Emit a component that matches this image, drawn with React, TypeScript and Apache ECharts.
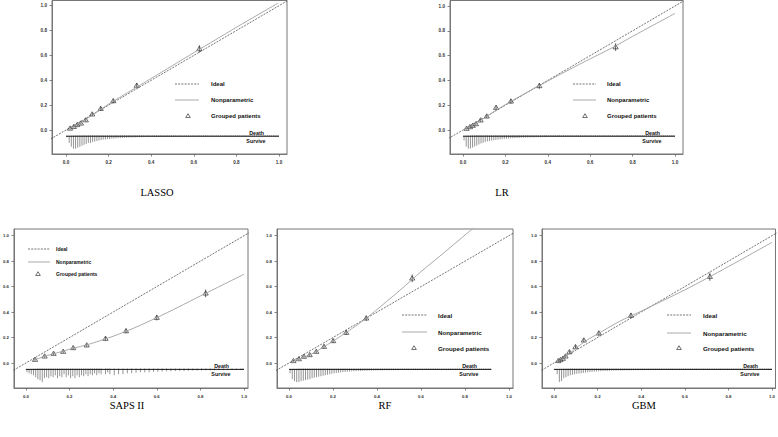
import React, { useEffect, useRef } from "react";
import * as echarts from "echarts";

// ---------------- DATA ----------------
const MODELS = ["LASSO", "LR", "SAPS II", "RF", "GBM"];
const TICKS = [0, 0.2, 0.4, 0.6, 0.8, 1.0];
const LEGEND_LABELS = ["Ideal", "Nonparametric", "Grouped patients"];
const RUG_LABELS = ["Death", "Survive"];
const RUG_Y = -0.05;

// grouped patients (mean predicted, observed, half-width of bar)
const LASSO_PRED = [0.019, 0.037, 0.053, 0.07, 0.093, 0.123, 0.163, 0.222, 0.332, 0.626];
const LASSO_OBS = [0.012, 0.026, 0.041, 0.053, 0.079, 0.126, 0.171, 0.233, 0.357, 0.652];
const LASSO_ERR = [0.008, 0.008, 0.009, 0.01, 0.012, 0.014, 0.015, 0.017, 0.022, 0.03];
const LR_PRED = [0.017, 0.033, 0.046, 0.061, 0.083, 0.112, 0.156, 0.226, 0.36, 0.72];
const LR_OBS = [0.011, 0.024, 0.035, 0.048, 0.078, 0.11, 0.18, 0.231, 0.355, 0.668];
const LR_ERR = [0.007, 0.008, 0.009, 0.01, 0.012, 0.013, 0.016, 0.018, 0.022, 0.03];
const SAPS_PRED = [0.042, 0.086, 0.127, 0.171, 0.217, 0.279, 0.365, 0.459, 0.6, 0.824];
const SAPS_OBS = [0.026, 0.052, 0.073, 0.089, 0.118, 0.139, 0.191, 0.251, 0.356, 0.547];
const SAPS_ERR = [0.008, 0.009, 0.01, 0.01, 0.012, 0.012, 0.015, 0.018, 0.022, 0.03];
const RF_PRED = [0.02, 0.045, 0.068, 0.094, 0.124, 0.159, 0.201, 0.26, 0.351, 0.56];
const RF_OBS = [0.016, 0.031, 0.05, 0.063, 0.089, 0.128, 0.173, 0.238, 0.351, 0.665];
const RF_ERR = [0.007, 0.008, 0.009, 0.01, 0.011, 0.013, 0.015, 0.017, 0.02, 0.03];
const GBM_PRED = [0.02, 0.03, 0.041, 0.053, 0.071, 0.099, 0.137, 0.206, 0.353, 0.715];
const GBM_OBS = [0.016, 0.024, 0.034, 0.052, 0.086, 0.126, 0.178, 0.233, 0.372, 0.678];
const GBM_ERR = [0.007, 0.007, 0.008, 0.009, 0.011, 0.013, 0.015, 0.017, 0.022, 0.032];

// nonparametric calibration curves
const LASSO_CURVE_X = [0.01, 0.03, 0.05, 0.08, 0.1, 0.15, 0.2, 0.25, 0.3, 0.4, 0.5, 0.6, 0.7, 0.8, 0.9, 0.994];
const LASSO_CURVE_Y = [0.004, 0.022, 0.04, 0.07, 0.093, 0.152, 0.208, 0.26, 0.312, 0.415, 0.518, 0.622, 0.724, 0.826, 0.926, 1.019];
const LR_CURVE_X = [0.005, 0.03, 0.06, 0.1, 0.15, 0.2, 0.3, 0.4, 0.5, 0.6, 0.7, 0.8, 0.9, 1.0];
const LR_CURVE_Y = [0.002, 0.024, 0.052, 0.097, 0.152, 0.205, 0.302, 0.395, 0.486, 0.574, 0.66, 0.755, 0.848, 0.94];
const SAPS_CURVE_X = [0.03, 0.05, 0.1, 0.15, 0.2, 0.25, 0.3, 0.4, 0.5, 0.6, 0.7, 0.8, 0.9, 1.0];
const SAPS_CURVE_Y = [0.018, 0.031, 0.06, 0.083, 0.108, 0.13, 0.153, 0.21, 0.278, 0.356, 0.44, 0.527, 0.612, 0.697];
const RF_CURVE_X = [0.01, 0.05, 0.1, 0.15, 0.2, 0.25, 0.3, 0.35, 0.4, 0.5, 0.56, 0.6, 0.7, 0.8, 0.9];
const RF_CURVE_Y = [0.008, 0.034, 0.068, 0.118, 0.172, 0.228, 0.287, 0.35, 0.42, 0.565, 0.656, 0.718, 0.86, 1.005, 1.15];
const GBM_CURVE_X = [0.01, 0.03, 0.05, 0.08, 0.1, 0.15, 0.2, 0.3, 0.4, 0.5, 0.6, 0.7, 0.8, 0.9, 1.0];
const GBM_CURVE_Y = [0.006, 0.024, 0.048, 0.088, 0.115, 0.178, 0.228, 0.326, 0.407, 0.49, 0.574, 0.664, 0.757, 0.852, 0.948];

// risk distribution (relative counts per 0.01 bin of predicted risk)
const LASSO_SURVIVE = [
  1, 7, 11, 13, 13, 12, 11, 10, 9, 8,
  7, 7, 6, 5.5, 5, 4.5, 4, 3.5, 3.5, 3,
  3, 2.5, 2.5, 2.2, 2, 2, 1.8, 1.6, 1.5, 1.4,
  1.3, 1.2, 1.2, 1.1, 1, 1, 1, 0.9, 0.9, 0.9,
  0.8, 0.8, 0.8, 0.8, 0.7, 0.7, 0.7, 0.7, 0.7, 0.6,
  0.6, 0.6, 0.6, 0.6, 0.6, 0.6, 0.5, 0.5, 0.5, 0.5,
  0.5, 0.5, 0.5, 0.5, 0.5, 0.5, 0.4, 0.4, 0.4, 0.4,
  0.4, 0.4, 0.4, 0.4, 0.4, 0.4, 0.4, 0.4, 0.4, 0.4,
  0.4, 0.4, 0.4, 0.3, 0.3, 0.3, 0.3, 0.3, 0.3, 0.3,
  0.3, 0.3, 0.3, 0.3, 0.3, 0.3, 0.3, 0.3, 0.3, 0.3,
];
const LASSO_DEATH = [
  0, 0.2, 0.4, 0.5, 0.6, 0.6, 0.7, 0.7, 0.7, 0.7,
  0.7, 0.7, 0.7, 0.7, 0.7, 0.7, 0.7, 0.7, 0.7, 0.7,
  0.7, 0.7, 0.7, 0.7, 0.7, 0.7, 0.7, 0.7, 0.7, 0.7,
  0.7, 0.7, 0.7, 0.7, 0.7, 0.7, 0.7, 0.7, 0.7, 0.7,
  0.7, 0.7, 0.7, 0.7, 0.7, 0.7, 0.7, 0.7, 0.7, 0.7,
  0.7, 0.7, 0.7, 0.7, 0.7, 0.7, 0.7, 0.7, 0.7, 0.7,
  0.7, 0.7, 0.7, 0.7, 0.7, 0.7, 0.7, 0.7, 0.7, 0.7,
  0.7, 0.7, 0.7, 0.7, 0.7, 0.7, 0.7, 0.7, 0.7, 0.7,
  0.7, 0.7, 0.7, 0.7, 0.7, 0.7, 0.7, 0.7, 0.7, 0.7,
  0.7, 0.7, 0.7, 0.7, 0.7, 0.7, 0.7, 0.7, 0.7, 0.7,
];
const LR_SURVIVE = [
  4, 10, 12, 12, 11, 10, 9, 8, 7, 6.5,
  5.5, 5, 4.5, 4.2, 3.9, 3.6, 3.3, 3, 2.8, 2.6,
  2.4, 2.2, 2, 1.9, 1.8, 1.7, 1.6, 1.5, 1.4, 1.3,
  1.2, 1.2, 1.1, 1.1, 1, 1, 1, 0.9, 0.9, 0.9,
  0.8, 0.8, 0.8, 0.8, 0.7, 0.7, 0.7, 0.7, 0.7, 0.6,
  0.6, 0.6, 0.6, 0.6, 0.6, 0.6, 0.5, 0.5, 0.5, 0.5,
  0.5, 0.5, 0.5, 0.5, 0.5, 0.5, 0.4, 0.4, 0.4, 0.4,
  0.4, 0.4, 0.4, 0.4, 0.4, 0.4, 0.4, 0.4, 0.4, 0.4,
  0.4, 0.4, 0.4, 0.3, 0.3, 0.3, 0.3, 0.3, 0.3, 0.3,
  0.3, 0.3, 0.3, 0.3, 0.3, 0.3, 0.3, 0.3, 0.3, 0.3,
];
const LR_DEATH = [
  0.1, 0.3, 0.4, 0.5, 0.6, 0.6, 0.7, 0.7, 0.7, 0.7,
  0.7, 0.7, 0.7, 0.7, 0.7, 0.7, 0.7, 0.7, 0.7, 0.7,
  0.7, 0.7, 0.7, 0.7, 0.7, 0.7, 0.7, 0.7, 0.7, 0.7,
  0.7, 0.7, 0.7, 0.7, 0.7, 0.7, 0.7, 0.7, 0.7, 0.7,
  0.7, 0.7, 0.7, 0.7, 0.7, 0.7, 0.7, 0.7, 0.7, 0.7,
  0.7, 0.7, 0.7, 0.7, 0.7, 0.7, 0.7, 0.7, 0.7, 0.7,
  0.7, 0.7, 0.7, 0.7, 0.7, 0.7, 0.7, 0.7, 0.7, 0.7,
  0.7, 0.7, 0.7, 0.7, 0.7, 0.7, 0.7, 0.7, 0.7, 0.7,
  0.7, 0.7, 0.7, 0.7, 0.7, 0.7, 0.7, 0.7, 0.7, 0.7,
  0.7, 0.7, 0.7, 0.7, 0.7, 0.7, 0.7, 0.7, 0.7, 0.7,
];
const SAPS_SURVIVE = [
  3, 4, 5, 6, 8, 10, 11, 13, 9, 8,
  9, 7, 8, 6, 9, 7, 8, 5, 8, 6,
  9, 7, 9, 6, 8, 6, 7, 5, 7, 5,
  6, 4, 6, 4, 5, 0, 5, 3, 5, 0,
  6, 0, 5, 0, 5, 0, 4, 0, 4, 0,
  3.5, 0, 3, 0, 3, 0, 3, 0, 2.5, 0,
  2.5, 0, 2.2, 0, 2, 0, 2, 0, 1.8, 0,
  1.6, 0, 1.5, 0, 1.4, 0, 1.3, 0, 1.2, 0,
  1.1, 0, 1, 0, 1, 0, 0.9, 0, 0.9, 0,
  0.8, 0, 0.8, 0, 0.7, 0, 0.7, 0, 0.6, 0.5,
];
const SAPS_DEATH = [
  0.2, 0.3, 0.4, 0.5, 0.6, 0.7, 0.7, 0.8, 0.7, 0.7,
  0.7, 0.7, 0.7, 0.7, 0.7, 0.7, 0.7, 0.7, 0.7, 0.7,
  0.7, 0.7, 0.7, 0.7, 0.7, 0.7, 0.7, 0.7, 0.7, 0.7,
  0.7, 0.7, 0.7, 0.7, 0.7, 0, 0.7, 0.7, 0.7, 0,
  0.7, 0, 0.7, 0, 0.7, 0, 0.7, 0, 0.7, 0,
  0.7, 0, 0.7, 0, 0.7, 0, 0.7, 0, 0.7, 0,
  0.7, 0, 0.7, 0, 0.7, 0, 0.7, 0, 0.7, 0,
  0.7, 0, 0.7, 0, 0.7, 0, 0.7, 0, 0.7, 0,
  0.7, 0, 0.7, 0, 0.7, 0, 0.7, 0, 0.7, 0,
  0.7, 0, 0.7, 0, 0.7, 0, 0.7, 0, 0.7, 0.7,
];
const RF_SURVIVE = [
  4, 10, 12, 13, 13, 12, 11.5, 11, 10.5, 10,
  9, 8.5, 8, 7.5, 7, 6.5, 6, 5.5, 5, 4.5,
  4, 3.7, 3.4, 3.1, 2.8, 2.6, 2.4, 2.2, 2, 1.9,
  1.8, 1.7, 1.6, 1.5, 1.4, 1.3, 1.2, 1.2, 1.1, 1.1,
  1, 1, 1, 0.9, 0.9, 0.9, 0.8, 0.8, 0.8, 0.8,
  0.7, 0.7, 0.7, 0.7, 0.6, 0.6, 0.6, 0.6, 0.6, 0.5,
  0.5, 0.5, 0.5, 0.5, 0.5, 0.5, 0.4, 0.4, 0.4, 0.4,
  0.4, 0.4, 0.4, 0.4, 0.4, 0.4, 0.4, 0.4, 0.3, 0.3,
  0.3, 0.3, 0.3, 0.3, 0.3, 0.3, 0.3, 0.3, 0.3, 0.3,
  0.3, 0.3,
];
const RF_DEATH = [
  0.1, 0.3, 0.4, 0.5, 0.6, 0.6, 0.7, 0.7, 0.7, 0.7,
  0.7, 0.7, 0.7, 0.7, 0.7, 0.7, 0.7, 0.7, 0.7, 0.7,
  0.7, 0.7, 0.7, 0.7, 0.7, 0.7, 0.7, 0.7, 0.7, 0.7,
  0.7, 0.7, 0.7, 0.7, 0.7, 0.7, 0.7, 0.7, 0.7, 0.7,
  0.7, 0.7, 0.7, 0.7, 0.7, 0.7, 0.7, 0.7, 0.7, 0.7,
  0.7, 0.7, 0.7, 0.7, 0.7, 0.7, 0.7, 0.7, 0.7, 0.7,
  0.7, 0.7, 0.7, 0.7, 0.7, 0.7, 0.7, 0.7, 0.7, 0.7,
  0.7, 0.7, 0.7, 0.7, 0.7, 0.7, 0.7, 0.7, 0.7, 0.7,
  0.7, 0.7, 0.7, 0.7, 0.7, 0.7, 0.7, 0.7, 0.7, 0.7,
  0.7, 0.7,
];
const GBM_SURVIVE = [
  0, 5, 13, 12, 9, 8, 7, 6, 5.5, 5,
  4.5, 4.2, 4, 3.6, 3.3, 3, 2.7, 2.5, 2.3, 2.1,
  2, 1.9, 1.8, 1.7, 1.6, 1.5, 1.4, 1.3, 1.2, 1.2,
  1.1, 1.1, 1, 1, 1, 0.9, 0.9, 0.9, 0.8, 0.8,
  0.8, 0.8, 0.7, 0.7, 0.7, 0.7, 0.7, 0.6, 0.6, 0.6,
  0.6, 0.6, 0.6, 0.6, 0.5, 0.5, 0.5, 0.5, 0.5, 0.5,
  0.5, 0.5, 0.5, 0.5, 0.4, 0.4, 0.4, 0.4, 0.4, 0.4,
  0.4, 0.4, 0.4, 0.4, 0.4, 0.4, 0.4, 0.4, 0.4, 0.4,
  0.4, 0.4, 0.3, 0.3, 0.3, 0.3, 0.3, 0.3, 0.3, 0.3,
  0.3, 0.3, 0.3, 0.3, 0.3, 0.3, 0.3, 0.3, 0.3, 0.3,
];
const GBM_DEATH = [
  0, 0.2, 0.4, 0.5, 0.6, 0.6, 0.7, 0.7, 0.7, 0.7,
  0.7, 0.7, 0.7, 0.7, 0.7, 0.7, 0.7, 0.7, 0.7, 0.7,
  0.7, 0.7, 0.7, 0.7, 0.7, 0.7, 0.7, 0.7, 0.7, 0.7,
  0.7, 0.7, 0.7, 0.7, 0.7, 0.7, 0.7, 0.7, 0.7, 0.7,
  0.7, 0.7, 0.7, 0.7, 0.7, 0.7, 0.7, 0.7, 0.7, 0.7,
  0.7, 0.7, 0.7, 0.7, 0.7, 0.7, 0.7, 0.7, 0.7, 0.7,
  0.7, 0.7, 0.7, 0.7, 0.7, 0.7, 0.7, 0.7, 0.7, 0.7,
  0.7, 0.7, 0.7, 0.7, 0.7, 0.7, 0.7, 0.7, 0.7, 0.7,
  0.7, 0.7, 0.7, 0.7, 0.7, 0.7, 0.7, 0.7, 0.7, 0.7,
  0.7, 0.7, 0.7, 0.7, 0.7, 0.7, 0.7, 0.7, 0.7, 0.7,
];
// range of predicted risk covered by the rug line
const RUG_MIN = [0, 0, 0, 0, 0];
const RUG_MAX = [1.0, 1.0, 1.0, 0.92, 1.0];

const PRED = [LASSO_PRED, LR_PRED, SAPS_PRED, RF_PRED, GBM_PRED];
const OBS = [LASSO_OBS, LR_OBS, SAPS_OBS, RF_OBS, GBM_OBS];
const ERR = [LASSO_ERR, LR_ERR, SAPS_ERR, RF_ERR, GBM_ERR];
const CURVE_X = [LASSO_CURVE_X, LR_CURVE_X, SAPS_CURVE_X, RF_CURVE_X, GBM_CURVE_X];
const CURVE_Y = [LASSO_CURVE_Y, LR_CURVE_Y, SAPS_CURVE_Y, RF_CURVE_Y, GBM_CURVE_Y];
const SURVIVE = [LASSO_SURVIVE, LR_SURVIVE, SAPS_SURVIVE, RF_SURVIVE, GBM_SURVIVE];
const DEATH = [LASSO_DEATH, LR_DEATH, SAPS_DEATH, RF_DEATH, GBM_DEATH];

// ---------------- LAYOUT (pixels) ----------------
// box edges and pixel positions of value 0 and 1 on each axis
const PANELS = [
  { left: 52, top: 0.5, right: 287, bottom: 154, x0: 66, x1: 279, y0: 130, y1: 5.7,
    title: [157, 192], leg: { l1: 175, l2: 199, tri: 188, tx: 211, rows: [84, 100, 116], fs: 6 },
    rugText: 264, tickFs: 4.6 },
  { left: 450, top: 0.5, right: 683, bottom: 154, x0: 463, x1: 675, y0: 130, y1: 6,
    title: [502, 192], leg: { l1: 573, l2: 596, tri: 585, tx: 607, rows: [84, 100, 116], fs: 6 },
    rugText: 660, tickFs: 4.6 },
  { left: 12, top: 229, right: 248, bottom: 388, x0: 24, x1: 244, y0: 363, y1: 235.7,
    title: [127, 405], leg: { l1: 28, l2: 50, tri: 38, tx: 56, rows: [249, 262, 274], fs: 5 },
    rugText: 229, tickFs: 4.3 },
  { left: 277, top: 229, right: 513, bottom: 388, x0: 289, x1: 509, y0: 363, y1: 235.7,
    title: [385, 405], leg: { l1: 402, l2: 427, tri: 414, tx: 438, rows: [315, 332, 348], fs: 6.2 },
    rugText: 477, tickFs: 4.3 },
  { left: 542, top: 229, right: 777, bottom: 388, x0: 554, x1: 773.5, y0: 363, y1: 235.7,
    title: [644, 405], leg: { l1: 667, l2: 691, tri: 679, tx: 703, rows: [315, 333, 348], fs: 6.2 },
    rugText: 758, tickFs: 4.3 },
];

const SANS = "'Liberation Sans', Arial, Helvetica, sans-serif";
const SERIF = "'Liberation Serif', 'Times New Roman', serif";
const IDEAL_COLOR = "#3a3a3a";
const NONPAR_COLOR = "#a0a0a0";
const MARK_COLOR = "#333";

function buildOption() {
  const grid: any[] = [];
  const xAxis: any[] = [];
  const yAxis: any[] = [];
  const series: any[] = [];
  const graphic: any[] = [];

  PANELS.forEach((p, i) => {
    const xs = p.x1 - p.x0;
    const ys = p.y0 - p.y1;
    const xmin = (p.left - p.x0) / xs;
    const xmax = (p.right - p.x0) / xs;
    const ymax = (p.y0 - p.top) / ys;
    const ymin = (p.y0 - p.bottom) / ys;
    const py = (v: number) => p.y0 - v * ys;

    grid.push({
      left: p.left, top: p.top, width: p.right - p.left, height: p.bottom - p.top,
      show: true, borderColor: "#777", borderWidth: 1, backgroundColor: "transparent",
    });
    const labelStyle = {
      customValues: TICKS,
      formatter: (v: number) => v.toFixed(1),
      fontSize: p.tickFs, fontWeight: "bold", fontFamily: SANS, color: "#333",
    };
    xAxis.push({
      type: "value", gridIndex: i, min: xmin, max: xmax,
      axisLine: { show: true, onZero: false, lineStyle: { color: "#777", width: 1 } },
      axisTick: { show: true, customValues: TICKS, length: 2.5, lineStyle: { color: "#666", width: 0.8 } },
      axisLabel: { ...labelStyle, margin: 6 },
      splitLine: { show: false },
    });
    yAxis.push({
      type: "value", gridIndex: i, min: ymin, max: ymax,
      axisLine: { show: true, onZero: false, lineStyle: { color: "#777", width: 1 } },
      axisTick: { show: true, customValues: TICKS, length: 2.5, lineStyle: { color: "#666", width: 0.8 } },
      axisLabel: { ...labelStyle, margin: 5 },
      splitLine: { show: false },
    });

    // ideal line y = x
    series.push({
      type: "line", xAxisIndex: i, yAxisIndex: i, silent: true, symbol: "none",
      data: [[-0.5, -0.5], [1.5, 1.5]], clip: true,
      lineStyle: { color: IDEAL_COLOR, width: 0.7, type: [2, 1.2] },
    });
    // nonparametric curve
    series.push({
      type: "line", xAxisIndex: i, yAxisIndex: i, silent: true, symbol: "none",
      smooth: 0.25, clip: true,
      data: CURVE_X[i].map((x, k) => [x, CURVE_Y[i][k]]),
      lineStyle: { color: NONPAR_COLOR, width: 0.9 },
    });
    // rug baseline
    series.push({
      type: "line", xAxisIndex: i, yAxisIndex: i, silent: true, symbol: "none",
      data: [[RUG_MIN[i], RUG_Y], [RUG_MAX[i], RUG_Y]],
      lineStyle: { color: "#111", width: 1 },
    });
    // rug spikes
    const sMax = Math.max(...SURVIVE[i]);
    const scale = 0.1 / sMax;
    series.push({
      type: "custom", xAxisIndex: i, yAxisIndex: i, silent: true,
      encode: { x: 0, y: 1 },
      data: SURVIVE[i].map((s, k) => [k * 0.01 + 0.005, s, DEATH[i][k]]),
      renderItem: (_params: any, api: any) => {
        const x = api.value(0);
        const s = api.value(1);
        const d = api.value(2);
        const base = api.coord([x, RUG_Y]);
        const down = api.coord([x, RUG_Y - s * scale]);
        const up = api.coord([x, RUG_Y + d * scale]);
        return {
          type: "group",
          children: [
            { type: "line", shape: { x1: base[0], y1: base[1], x2: down[0], y2: down[1] },
              style: { stroke: "#7a7a7a", lineWidth: 0.8 } },
            { type: "line", shape: { x1: base[0], y1: base[1], x2: up[0], y2: up[1] },
              style: { stroke: "#333", lineWidth: 0.8 } },
          ],
        };
      },
    });
    // grouped patients: triangles with vertical bars
    series.push({
      type: "custom", xAxisIndex: i, yAxisIndex: i, silent: true,
      encode: { x: 0, y: 1 },
      data: PRED[i].map((x, k) => [x, OBS[i][k], OBS[i][k] - ERR[i][k], OBS[i][k] + ERR[i][k]]),
      renderItem: (_params: any, api: any) => {
        const c = api.coord([api.value(0), api.value(1)]);
        const a = api.coord([api.value(0), api.value(2)]);
        const b = api.coord([api.value(0), api.value(3)]);
        const r = 2.6;
        return {
          type: "group",
          children: [
            { type: "line", shape: { x1: a[0], y1: a[1], x2: b[0], y2: b[1] },
              style: { stroke: MARK_COLOR, lineWidth: 0.8 } },
            { type: "polygon",
              shape: { points: [[c[0], c[1] - r], [c[0] - r, c[1] + r * 0.65], [c[0] + r, c[1] + r * 0.65]] },
              style: { fill: "rgba(255,255,255,0)", stroke: MARK_COLOR, lineWidth: 0.7 } },
          ],
        };
      },
    });

    // title
    graphic.push({
      type: "text", x: p.title[0], y: p.title[1], silent: true,
      style: { text: MODELS[i], fontSize: 10.5, fontFamily: SERIF, fill: "#000",
        align: "center", verticalAlign: "middle", textAlign: "center", textVerticalAlign: "middle" },
    });
    // legend
    const L = p.leg;
    graphic.push({
      type: "line", silent: true,
      shape: { x1: L.l1, y1: L.rows[0], x2: L.l2, y2: L.rows[0] },
      style: { stroke: IDEAL_COLOR, lineWidth: 0.7, lineDash: [2, 1.2] },
    });
    graphic.push({
      type: "line", silent: true,
      shape: { x1: L.l1, y1: L.rows[1], x2: L.l2, y2: L.rows[1] },
      style: { stroke: NONPAR_COLOR, lineWidth: 0.9 },
    });
    const r = 2.3;
    const ty = L.rows[2];
    graphic.push({
      type: "polygon", silent: true,
      shape: { points: [[L.tri, ty - r], [L.tri - r, ty + r * 0.65], [L.tri + r, ty + r * 0.65]] },
      style: { fill: "rgba(255,255,255,0)", stroke: MARK_COLOR, lineWidth: 0.7 },
    });
    LEGEND_LABELS.forEach((lab, k) => {
      graphic.push({
        type: "text", x: L.tx, y: L.rows[k], silent: true,
        style: { text: lab, fontSize: L.fs, fontWeight: "bold", fontFamily: SANS, fill: "#111",
          align: "left", verticalAlign: "middle", textAlign: "left", textVerticalAlign: "middle" },
      });
    });
    // Death / Survive labels
    const ly = py(RUG_Y);
    graphic.push({
      type: "text", x: p.rugText, y: ly - 3.2, silent: true,
      style: { text: RUG_LABELS[0], fontSize: 5.3, fontWeight: "bold", fontFamily: SANS, fill: "#111",
        align: "right", verticalAlign: "middle", textAlign: "right", textVerticalAlign: "middle" },
    });
    graphic.push({
      type: "text", x: p.rugText + 1.5, y: ly + 4.8, silent: true,
      style: { text: RUG_LABELS[1], fontSize: 5.3, fontWeight: "bold", fontFamily: SANS, fill: "#111",
        align: "right", verticalAlign: "middle", textAlign: "right", textVerticalAlign: "middle" },
    });
  });

  return {
    animation: false,
    backgroundColor: "#fff",
    grid, xAxis, yAxis, series, graphic,
  };
}

export default function App() {
  const ref = useRef<HTMLDivElement>(null);
  useEffect(() => {
    if (!ref.current) return;
    const chart = echarts.init(ref.current, undefined, { renderer: "svg", width: 778, height: 437 });
    chart.setOption(buildOption() as any);
    return () => chart.dispose();
  }, []);
  return (
    <div
      ref={ref}
      style={{ position: "absolute", left: 0, top: 0, width: 778, height: 437, background: "#fff" }}
    />
  );
}
